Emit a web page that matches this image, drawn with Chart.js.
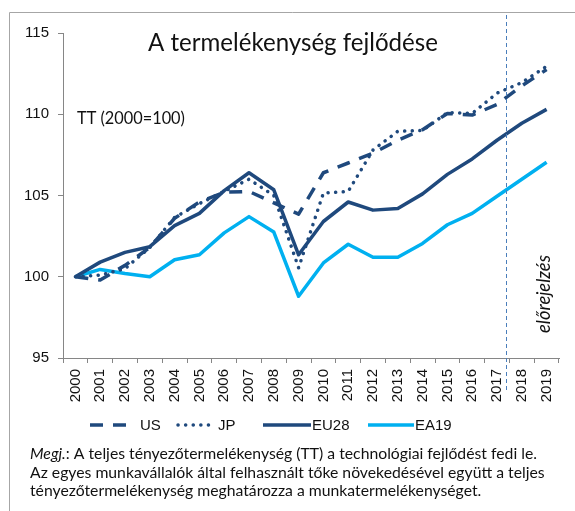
<!DOCTYPE html>
<html>
<head>
<meta charset="utf-8">
<script src="https://cdn.jsdelivr.net/npm/chart.js@4.4.1/dist/chart.umd.min.js"></script>
<style>
  html, body { margin: 0; padding: 0; background: #fff; }
  #wrap { width: 575px; height: 511px; }
</style>
</head>
<body>
<div id="wrap"><canvas id="tfpChart" width="575" height="511"></canvas></div>
<script>
// adatok (2000=100)
const years = ["2000", "2001", "2002", "2003", "2004", "2005", "2006", "2007", "2008", "2009",
  "2010", "2011", "2012", "2013", "2014", "2015", "2016", "2017", "2018", "2019"];
const usValues = [100, 99.8, 100.7, 101.8, 103.6, 104.6, 105.2, 105.25, 104.55, 103.85,
  106.4, 107.0, 107.6, 108.4, 109.05, 110.05, 109.95, 110.6, 111.75, 112.75];
const jpValues = [100, 100.1, 100.5, 101.8, 103.65, 104.5, 105.25, 106.0, 105.0, 100.55,
  105.15, 105.25, 107.8, 108.95, 109.0, 110.1, 110.05, 111.3, 111.95, 112.95];
const eu28Values = [100, 100.9, 101.5, 101.85, 103.15, 103.9, 105.3, 106.4, 105.35, 101.35,
  103.4, 104.6, 104.1, 104.2, 105.1, 106.3, 107.25, 108.4, 109.45, 110.3];
const ea19Values = [100, 100.45, 100.2, 100.0, 101.05, 101.35, 102.7, 103.7, 102.75, 98.8,
  100.85, 102.0, 101.2, 101.2, 102.05, 103.2, 103.9, 104.95, 106.0, 107.05];
const yTicks = [95, 100, 105, 110, 115];
const forecastStart = "2018";

const darkBlue = "#1f497d";
const lightBlue = "#00b0f0";
const axisGray = "#868686";

const seriesStyle = {
  US: { data: usValues, color: darkBlue, dash: [13, 10], cap: "butt" },
  JP: { data: jpValues, color: darkBlue, dash: [0.1, 7.5], cap: "round" },
  EU28: { data: eu28Values, color: darkBlue, dash: [], cap: "butt" },
  EA19: { data: ea19Values, color: lightBlue, dash: [], cap: "butt" },
};

// betűméret illesztése adott szélességre
function fitFont(ctx, text, style, family, width) {
  ctx.font = style + " 20px " + family;
  const size = 20 * width / ctx.measureText(text).width;
  return style + " " + size.toFixed(2) + "px " + family;
}

const decorations = {
  id: "decorations",
  afterDraw(chart) {
    const ctx = chart.ctx;
    const x = chart.scales.x;
    const area = chart.chartArea;
    const calibri = "Lato, 'Open Sans', sans-serif";
    ctx.save();

    // keret
    ctx.strokeStyle = "#a6a6a6";
    ctx.lineWidth = 1;
    ctx.beginPath();
    ctx.moveTo(9.5, 511);
    ctx.lineTo(9.5, 12.5);
    ctx.lineTo(575, 12.5);
    ctx.stroke();

    // előrejelzés határa
    const i = years.indexOf(forecastStart);
    const fx = Math.round((x.getPixelForValue(i - 1) + x.getPixelForValue(i)) / 2) - 2.5;
    ctx.strokeStyle = "#4a7ebb";
    ctx.setLineDash([4, 3]);
    ctx.beginPath();
    ctx.moveTo(fx, 15);
    ctx.lineTo(fx, 392);
    ctx.stroke();
    ctx.setLineDash([]);

    ctx.fillStyle = "#111";
    ctx.textBaseline = "alphabetic";

    // cím
    const title = "A termelékenység fejlődése";
    ctx.font = fitFont(ctx, title, "normal", calibri, 290);
    ctx.textAlign = "center";
    ctx.fillText(title, 293, 51);

    ctx.textAlign = "left";
    const tt = "TT (2000=100)";
    ctx.font = fitFont(ctx, tt, "normal", calibri, 108);
    ctx.fillText(tt, 77, 124);

    // függőleges felirat
    const fc = "előrejelzés";
    ctx.save();
    ctx.translate(550, 294);
    ctx.rotate(-Math.PI / 2);
    ctx.font = fitFont(ctx, fc, "italic", calibri, 78);
    ctx.textAlign = "center";
    ctx.fillText(fc, 0, 0);
    ctx.restore();

    // jelmagyarázat
    const legendY = 425;
    const legendItems = [
      { name: "US", x0: 90, x1: 126, tx: 140 },
      { name: "JP", x0: 178, x1: 209, tx: 218 },
      { name: "EU28", x0: 263, x1: 311, tx: 312 },
      { name: "EA19", x0: 368, x1: 414, tx: 415 },
    ];
    ctx.font = "15px 'Liberation Sans', Arial, sans-serif";
    ctx.textBaseline = "middle";
    legendItems.forEach(item => {
      const s = seriesStyle[item.name];
      ctx.strokeStyle = s.color;
      ctx.lineWidth = 3.5;
      ctx.lineCap = s.cap;
      ctx.setLineDash(s.dash);
      ctx.beginPath();
      ctx.moveTo(item.x0, legendY);
      ctx.lineTo(item.x1, legendY);
      ctx.stroke();
      ctx.setLineDash([]);
      ctx.fillStyle = "#111";
      ctx.fillText(item.name, item.tx, legendY + 1);
    });

    // megjegyzés
    ctx.textBaseline = "alphabetic";
    const line2 = "Az egyes munkavállalók által felhasznált tőke növekedésével együtt a teljes";
    const noteFont = fitFont(ctx, line2, "normal", calibri, 515);
    ctx.font = noteFont.replace("normal", "italic");
    ctx.fillText("Megj.", 30, 459);
    const w = ctx.measureText("Megj.").width;
    ctx.font = noteFont;
    ctx.fillText(": A teljes tényezőtermelékenység (TT) a technológiai fejlődést fedi le.", 30 + w, 459);
    ctx.fillText(line2, 30, 477.5);
    ctx.fillText("tényezőtermelékenység meghatározza a munkatermelékenységet.", 30, 496);

    ctx.restore();
  },
};

new Chart(document.getElementById("tfpChart").getContext("2d"), {
  type: "line",
  data: {
    labels: years,
    datasets: Object.keys(seriesStyle).map(name => ({
      label: name,
      data: seriesStyle[name].data,
      borderColor: seriesStyle[name].color,
      backgroundColor: seriesStyle[name].color,
      borderWidth: 3.5,
      borderDash: seriesStyle[name].dash,
      borderCapStyle: seriesStyle[name].cap,
      borderJoinStyle: "round",
      pointRadius: 0,
      tension: 0,
      fill: false,
    })),
  },
  options: {
    responsive: false,
    animation: false,
    layout: { padding: { left: 0, right: 16, top: 33, bottom: 93 } },
    plugins: {
      legend: { display: false },
      title: { display: false },
      tooltip: { enabled: false },
    },
    scales: {
      x: {
        offset: true,
        afterFit(scale) { scale.height = 60; },
        grid: { offset: true, drawOnChartArea: false, drawTicks: true, tickLength: 5, color: axisGray },
        border: { color: axisGray, width: 1 },
        ticks: {
          minRotation: 90, maxRotation: 90, autoSkip: false, padding: 6,
          color: "#111", font: { family: "'Liberation Sans', Arial, sans-serif", size: 15 },
        },
      },
      y: {
        min: yTicks[0],
        max: yTicks[yTicks.length - 1],
        afterFit(scale) { scale.width = 63; },
        afterBuildTicks(scale) { scale.ticks = yTicks.map(v => ({ value: v })); },
        grid: { drawOnChartArea: false, drawTicks: true, tickLength: 5, color: axisGray },
        border: { color: axisGray, width: 1 },
        ticks: {
          padding: 9,
          color: "#111", font: { family: "'Liberation Sans', Arial, sans-serif", size: 15 },
        },
      },
    },
  },
  plugins: [decorations],
});
</script>
</body>
</html>
